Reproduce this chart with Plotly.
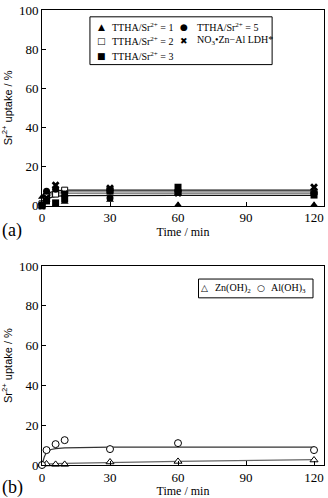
import plotly.graph_objects as go

# ---- data ----
time_pts = [0, 2, 6, 10, 30, 60, 120]

# panel (a): TTHA / Sr2+ ratios and the LDH reference
ttha1 = [4.5, 3.0, 0.3, 2.0, 3.0, 0.5, 0.5]
ttha2 = [1.0, 5.0, 6.0, 8.0, 8.0, 7.0, 7.0]
ttha3 = [0.0, 2.5, 1.5, 3.5, 7.5, 9.5, 5.5]
ttha5 = [0.5, 7.5, 8.5, 6.0, 4.0, 7.0, 6.5]
ldh = [0.0, 4.0, 10.5, 6.0, 9.0, 6.5, 9.5]

# fitted curves in panel (a)
fit_t = [0, 1, 2, 4, 6, 10, 30, 60, 120]
fit_ldh = [2.0, 4.0, 5.5, 7.0, 7.6, 8.0, 8.0, 8.0, 8.0]
fit_ttha2 = [1.5, 3.5, 5.0, 6.3, 6.8, 7.1, 7.1, 7.1, 7.1]
fit_ttha5 = [1.0, 3.0, 4.5, 5.6, 6.0, 6.3, 6.4, 6.4, 6.4]
fit_ttha3 = [0.5, 2.0, 3.0, 4.3, 4.8, 5.2, 5.3, 5.3, 5.3]

# panel (b): hydroxides
zn_oh2 = [0.3, 0.5, 0.3, 0.3, 1.5, 1.8, 2.5]
al_oh3 = [0.0, 7.5, 10.5, 12.5, 8.0, 11.0, 7.5]
fit_al = [0.0, 4.0, 6.5, 7.8, 8.2, 8.6, 9.0, 9.0, 9.0]
fit_zn = [0.3, 0.4, 0.5, 0.6, 0.7, 0.8, 1.3, 1.8, 2.7]

names_a = ["TTHA/Sr<sup>2+</sup> = 1", "TTHA/Sr<sup>2+</sup> = 2", "TTHA/Sr<sup>2+</sup> = 3",
           "TTHA/Sr<sup>2+</sup> = 5", "NO<sub>3</sub>•Zn−Al LDH*"]
names_b = ["Zn(OH)<sub>2</sub>", "Al(OH)<sub>3</sub>"]

x_ticks = [0, 30, 60, 90, 120]
y_ticks = [0, 20, 40, 60, 80, 100]

SERIF = "Liberation Serif, Times New Roman, serif"
SANS = "Liberation Sans, Arial, sans-serif"

fig = go.Figure()

# fitted lines first so markers sit on top
for ys, col in [(fit_ttha3, "#111"), (fit_ttha5, "#888"), (fit_ttha2, "#777"), (fit_ldh, "#111")]:
    fig.add_trace(go.Scatter(x=fit_t, y=ys, mode="lines", line=dict(color=col, width=1.2),
                             showlegend=False, hoverinfo="skip", xaxis="x", yaxis="y"))

markers_a = [
    (ttha1, dict(symbol="triangle-up", size=7, color="black")),
    (ttha2, dict(symbol="square", size=6, color="white", line=dict(color="black", width=1))),
    (ttha3, dict(symbol="square", size=7, color="black")),
    (ttha5, dict(symbol="circle", size=7, color="black")),
    (ldh, dict(symbol="x", size=7, color="black")),
]
for (ys, mk), nm in zip(markers_a, names_a):
    fig.add_trace(go.Scatter(x=time_pts, y=ys, mode="markers", marker=mk, name=nm,
                             showlegend=False, cliponaxis=False, xaxis="x", yaxis="y"))

# panel (b)
fig.add_trace(go.Scatter(x=fit_t, y=fit_zn, mode="lines", line=dict(color="#666", width=1.2),
                         showlegend=False, hoverinfo="skip", xaxis="x2", yaxis="y2"))
fig.add_trace(go.Scatter(x=fit_t, y=fit_al, mode="lines", line=dict(color="#333", width=1.2),
                         showlegend=False, hoverinfo="skip", xaxis="x2", yaxis="y2"))
fig.add_trace(go.Scatter(x=time_pts, y=zn_oh2, mode="markers", name=names_b[0], cliponaxis=False,
                         marker=dict(symbol="triangle-up", size=7, color="white",
                                     line=dict(color="black", width=1)),
                         showlegend=False, xaxis="x2", yaxis="y2"))
fig.add_trace(go.Scatter(x=time_pts, y=al_oh3, mode="markers", name=names_b[1], cliponaxis=False,
                         marker=dict(symbol="circle", size=7, color="white",
                                     line=dict(color="black", width=1)),
                         showlegend=False, xaxis="x2", yaxis="y2"))

tick_font = dict(family=SERIF, size=13, color="black")
ax_common = dict(showline=True, mirror=True, linecolor="black", linewidth=1, ticks="inside",
                 ticklen=4, tickcolor="black", showgrid=False, zeroline=False, tickfont=tick_font)

xa = dict(ax_common, range=[0, 124.4], tickvals=x_ticks,
          title=dict(text="Time / min", font=dict(family=SERIF, size=12, color="black"), standoff=2))
ya = dict(ax_common, range=[0, 100], tickvals=y_ticks,
          title=dict(text="Sr<sup>2+</sup> uptake / %", font=dict(family=SANS, size=11, color="black"),
                     standoff=6))

fig.update_layout(
    width=328, height=498,
    margin=dict(l=42, r=3, t=6, b=32),
    paper_bgcolor="white", plot_bgcolor="white",
    xaxis=dict(xa, domain=[0, 1], anchor="y"),
    yaxis=dict(ya, domain=[0.5696, 1], anchor="x"),
    xaxis2=dict(xa, domain=[0, 1], anchor="y2"),
    yaxis2=dict(ya, domain=[0, 0.437], anchor="x2"),
)

# ---- hand-built legends (compact, like the original) ----
leg_font = dict(family=SERIF, size=10, color="black")
sym_font = dict(family="DejaVu Sans", size=9, color="black")
shapes = [
    dict(type="rect", xref="paper", yref="paper", x0=0.170, x1=0.816, y0=0.880, y1=0.985,
         line=dict(color="black", width=1), fillcolor="white", layer="below"),
    dict(type="rect", xref="paper", yref="paper", x0=0.555, x1=0.961, y0=0.3674, y1=0.4087,
         line=dict(color="black", width=1), fillcolor="white", layer="below"),
]
annotations = []
glyphs_a = ["▲", "□", "■", "●", "✖"]
slots_a = [(0.212, 0.240, 0.9624), (0.212, 0.240, 0.9320), (0.212, 0.240, 0.8993),
           (0.505, 0.541, 0.9624), (0.505, 0.541, 0.9320)]
for g, nm, (xs, xt, yy) in zip(glyphs_a, names_a, slots_a):
    annotations.append(dict(text=g, x=xs, y=yy, xref="paper", yref="paper", xanchor="center",
                            yanchor="middle", showarrow=False, font=sym_font))
    annotations.append(dict(text=nm, x=xt, y=yy, xref="paper", yref="paper", xanchor="left",
                            yanchor="middle", showarrow=False, font=leg_font))
glyphs_b = ["△", "○"]
slots_b = [(0.576, 0.605, 0.388), (0.777, 0.805, 0.388)]
for g, nm, (xs, xt, yy) in zip(glyphs_b, names_b, slots_b):
    annotations.append(dict(text=g, x=xs, y=yy, xref="paper", yref="paper", xanchor="center",
                            yanchor="middle", showarrow=False, font=sym_font))
    annotations.append(dict(text=nm, x=xt, y=yy, xref="paper", yref="paper", xanchor="left",
                            yanchor="middle", showarrow=False, font=leg_font))

# panel letters
for lab, yy in [("(a)", 0.515), ("(b)", -0.05)]:
    annotations.append(dict(text=lab, x=-0.105, y=yy, xref="paper", yref="paper", xanchor="center",
                            yanchor="middle", showarrow=False,
                            font=dict(family=SERIF, size=18, color="black")))

fig.update_layout(shapes=shapes, annotations=annotations)

# page body margin would push the fixed-size figure off screen
fig.write_html("out.html", config={"displayModeBar": False},
               post_script="document.body.style.margin='0';")
